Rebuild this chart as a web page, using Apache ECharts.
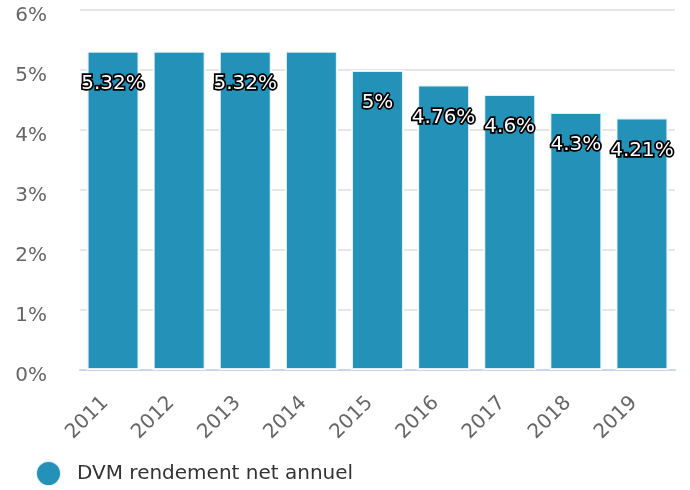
<!DOCTYPE html>
<html>
<head>
<meta charset="utf-8">
<script src="https://cdn.jsdelivr.net/npm/echarts@6/dist/echarts.min.js"></script>
<style>html,body{margin:0;padding:0;background:#fff}#c{width:690px;height:490px}</style>
</head>
<body>
<div id="c"></div>
<script>
var categories = ['2011','2012','2013','2014','2015','2016','2017','2018','2019'];
var values = [5.32, 5.32, 5.32, 5.32, 5, 4.76, 4.6, 4.3, 4.21];
var labelShown = [true, false, true, false, true, true, true, true, true];
var yTicks = [0, 1, 2, 3, 4, 5, 6];
var seriesName = 'DVM rendement net annuel';

var chart = echarts.init(document.getElementById('c'));
var font = 'DejaVu Sans';
chart.setOption({
  animation: false,
  textStyle: { fontFamily: font },
  grid: { left: 80, right: 15, top: 10, bottom: 120 },
  legend: {
    left: 30, top: 455,
    icon: 'circle', itemWidth: 25, itemHeight: 25,
    textStyle: { fontSize: 20, color: '#333', fontFamily: font, padding: [0, 0, 0, 11] },
    data: [seriesName]
  },
  xAxis: {
    type: 'category', data: categories,
    axisLine: { lineStyle: { color: '#ccd6eb', width: 2 } },
    axisTick: { show: false },
    axisLabel: { rotate: 45, fontSize: 20, color: '#666', margin: 22, padding: [0, 11, 0, 0], fontFamily: font }
  },
  yAxis: {
    type: 'value', min: yTicks[0], max: yTicks[yTicks.length - 1], interval: 1,
    axisLine: { show: false }, axisTick: { show: false },
    splitLine: { lineStyle: { color: '#e6e6e6', width: 2 } },
    axisLabel: { formatter: '{value}%', fontSize: 20, color: '#666', margin: 33, verticalAlign: 'top', lineHeight: 11, fontFamily: font }
  },
  series: [{
    name: seriesName, type: 'bar',
    barCategoryGap: '20%',
    itemStyle: { color: '#2491b9', borderColor: 'rgba(255,255,255,0.85)', borderWidth: 2 },
    data: values.map(function (v, i) {
      return { value: v, label: { show: labelShown[i] } };
    }),
    label: {
      position: 'insideTop', distance: 23,
      formatter: '{c}%',
      fontSize: 20, fontWeight: 'normal', color: '#fff',
      textBorderColor: '#000', textBorderWidth: 3.5, fontFamily: font
    }
  }]
});
</script>
</body>
</html>
